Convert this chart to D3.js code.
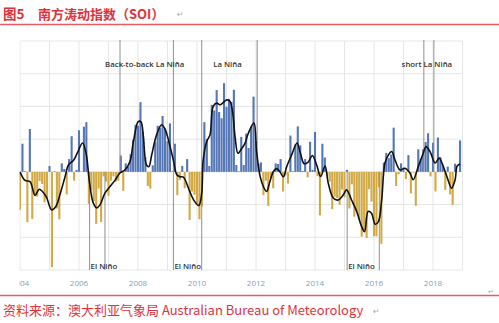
<!DOCTYPE html>
<html>
<head>
<meta charset="utf-8">
<script src="https://cdn.jsdelivr.net/npm/d3@7"></script>
<style>
  html, body { margin: 0; padding: 0; background: #fff; }
  svg { display: block; }
</style>
</head>
<body>
<svg id="chart" width="499" height="323"></svg>
<script>
// Monthly Southern Oscillation Index, January to December of each year
const soi2004 = [-11.6, 8.6, 0.2, -15.4, 13.1, -14.4, -6.9, -7.6, -2.8, -3.7, -9.3, -8.0];
const soi2005 = [1.8, -29.1, 0.2, -11.2, -14.5, 2.6, 0.9, -6.9, 3.9, 10.9, -2.7, 0.6];
const soi2006 = [12.7, 0.1, 13.8, 15.2, -9.8, -5.5, -8.9, -15.9, -5.1, -15.3, -1.4, -3.0];
const soi2007 = [-7.3, -2.7, -1.4, -3.0, -2.7, 5.0, -5.8, 2.6, 1.5, 5.4, 9.8, 14.4];
const soi2008 = [14.1, 21.3, 12.2, 4.5, -4.3, -5.1, 2.0, 9.1, 14.1, 13.5, 17.1, 13.3];
const soi2009 = [9.4, 14.8, 0.2, 8.6, -7.1, -2.5, 1.8, -5.0, 3.9, -14.7, -6.0, -7.0];
const soi2010 = [-10.1, -14.5, -10.6, 15.2, 10.0, 1.8, 20.5, 18.8, 25.0, 18.3, 16.4, 27.1];
const soi2011 = [19.9, 22.3, 21.4, 25.1, 2.1, 0.2, 10.7, 2.1, 11.7, 7.3, 13.8, 23.0];
const soi2012 = [9.4, 2.5, 2.9, -7.1, -2.7, -10.4, -1.8, -5.0, 2.6, 2.4, 3.9, -6.0];
const soi2013 = [-1.1, -3.6, 11.1, 0.2, 8.4, 13.9, 8.1, 0.3, 3.9, -1.7, 9.2, 0.6];
const soi2014 = [12.2, -1.3, -13.3, 8.6, 4.4, -1.5, -3.0, -11.4, -7.6, -8.0, -10.0, -5.4];
const soi2015 = [-7.8, 0.6, -11.2, -3.8, -13.7, -12.0, -14.7, -19.8, -17.8, -20.2, -5.3, -9.1];
const soi2016 = [-19.7, -19.7, -4.7, -22.0, 2.8, 5.8, 4.2, 5.3, 13.5, -4.3, -0.7, 2.6];
const soi2017 = [1.3, -2.2, 5.1, -6.6, -0.2, -10.4, 6.9, 4.0, 6.9, 9.1, 11.8, -1.4];
const soi2018 = [8.9, -6.0, 10.5, 4.5, 2.1, -5.5, 1.6, -6.9, -10.1, 2.5, -0.1, 9.6];

const years = [2004, 2005, 2006, 2007, 2008, 2009, 2010, 2011, 2012, 2013, 2014, 2015, 2016, 2017, 2018];
const soiByYear = [soi2004, soi2005, soi2006, soi2007, soi2008, soi2009, soi2010, soi2011,
                   soi2012, soi2013, soi2014, soi2015, soi2016, soi2017, soi2018];

// Smoothed SOI trace (decimal year, index value)
const trendTime = [2004.00, 2004.17, 2004.34, 2004.51, 2004.65, 2004.76, 2004.90, 2005.07, 2005.22, 2005.36,
  2005.53, 2005.64, 2005.81, 2005.94, 2006.12, 2006.24, 2006.35, 2006.48, 2006.60, 2006.71,
  2006.88, 2007.05, 2007.22, 2007.39, 2007.56, 2007.73, 2007.84, 2008.01, 2008.10, 2008.18,
  2008.29, 2008.37, 2008.46, 2008.63, 2008.80, 2008.92, 2009.08, 2009.20, 2009.31, 2009.42,
  2009.54, 2009.71, 2009.88, 2010.06, 2010.16, 2010.21, 2010.33, 2010.44, 2010.55, 2010.67,
  2010.78, 2011.01, 2011.12, 2011.21, 2011.29, 2011.39, 2011.52, 2011.63, 2011.74, 2011.93,
  2012.02, 2012.14, 2012.25, 2012.36, 2012.47, 2012.59, 2012.70, 2012.81, 2012.93, 2013.04,
  2013.21, 2013.39, 2013.51, 2013.63, 2013.77, 2013.91, 2014.06, 2014.19, 2014.34, 2014.45,
  2014.62, 2014.79, 2014.96, 2015.07, 2015.24, 2015.41, 2015.58, 2015.68, 2015.80, 2015.91,
  2016.04, 2016.15, 2016.26, 2016.37, 2016.49, 2016.60, 2016.71, 2016.88, 2017.05, 2017.22,
  2017.33, 2017.50, 2017.67, 2017.76, 2017.90, 2018.07, 2018.21, 2018.33, 2018.47, 2018.63,
  2018.75, 2018.82, 2018.92];
const trendValue = [0.0, -2.6, -3.0, -7.2, -5.3, -6.0, -7.8, -11.6, -10.5, -6.8,
  -1.4, 2.1, 3.5, 5.7, 8.8, 5.7, -2.8, -9.4, -11.0, -10.1,
  -6.5, -4.5, -2.6, -0.3, 0.6, 3.2, 9.0, 15.4, 15.3, 11.0,
  2.0, 1.6, 5.0, 11.3, 14.4, 13.0, 8.0, 3.5, -0.8, -1.5,
  -1.6, -5.0, -8.5, -10.3, -6.5, 3.7, 9.3, 11.3, 20.0, 21.0,
  20.5, 22.0, 21.5, 18.0, 10.8, 5.7, 7.2, 8.8, 11.8, 14.9,
  6.2, -1.4, -4.5, -6.0, -3.0, 0.1, 1.0, 0.0, -1.5, 1.6,
  5.2, 8.8, 5.5, 2.5, 3.0, 5.0, 2.0, -1.4, 1.8, -3.5,
  -8.0, -8.6, -7.0, -5.5, -8.6, -12.0, -16.7, -18.3, -12.1, -12.6,
  -16.0, -15.2, -8.6, 2.7, 5.2, 6.2, 3.7, 0.6, 1.1, -0.4,
  -2.4, 1.6, 5.7, 7.7, 6.2, 2.7, 4.2, 2.1, -1.4, -5.0,
  -2.4, 1.8, 2.4];

// ENSO episodes: phase, start, end (decimal years) and caption
const episodePhase = ["El Niño", "La Niña", "El Niño", "La Niña", "El Niño", "La Niña"];
const episodeStart = [2006.36, 2007.39, 2009.20, 2010.16, 2015.09, 2017.69];
const episodeEnd   = [2006.88, 2009.20, 2010.16, 2012.04, 2016.18, 2018.03];
const episodeLabel = ["El Niño", "Back-to-back La Niña", "El Niño", "La Niña", "El Niño", "short La Niña"];

const tickYears = [2004, 2006, 2008, 2010, 2012, 2014, 2016, 2018];
const gridValues = [-30, -20, -10, 0, 10, 20, 30, 40];

const titleNumber = "图5";
const titleText = "南方涛动指数（SOI）";
const sourceText = "资料来源：澳大利亚气象局 Australian Bureau of Meteorology";

// ---------------------------------------------------------------
const svg = d3.select("#chart");
const W = 499, H = 323;
const plot = { left: 20, right: 462.5, top: 41, bottom: 270 };

const x = d3.scaleLinear().domain([2004, 2019]).range([plot.left, plot.right]);
const y = d3.scaleLinear().domain([-30, 40]).range([plot.bottom, plot.top]);

const red = "#e0323c";
const lineRed = "#e65a62";

// heading and footer
svg.append("text").attr("x", 3).attr("y", 19)
  .attr("font-family", "'Noto Sans CJK SC', sans-serif").attr("font-weight", 700)
  .attr("font-size", 13.5).attr("fill", red).text(titleNumber);
svg.append("text").attr("x", 38).attr("y", 19)
  .attr("font-family", "'Noto Sans CJK SC', sans-serif").attr("font-weight", 700)
  .attr("font-size", 13).attr("fill", red).text(titleText);
svg.append("text").attr("x", 177).attr("y", 17)
  .attr("font-family", "'DejaVu Sans', sans-serif").attr("font-size", 8)
  .attr("fill", "#aaa").text("↵");

svg.append("line").attr("x1", 0).attr("x2", W).attr("y1", 24.5).attr("y2", 24.5)
  .attr("stroke", lineRed).attr("stroke-width", 1.5);
svg.append("line").attr("x1", 0).attr("x2", W).attr("y1", 295.5).attr("y2", 295.5)
  .attr("stroke", lineRed).attr("stroke-width", 1.5);

svg.append("text").attr("x", 3).attr("y", 315)
  .attr("font-family", "'Noto Sans CJK SC', sans-serif")
  .attr("font-size", 13).attr("fill", red).text(sourceText);
svg.append("text").attr("x", 373).attr("y", 314)
  .attr("font-family", "'DejaVu Sans', sans-serif").attr("font-size", 8)
  .attr("fill", "#aaa").text("↵");
svg.append("text").attr("x", 488).attr("y", 294)
  .attr("font-family", "'DejaVu Sans', sans-serif").attr("font-size", 7)
  .attr("fill", "#aaa").text("↵");

// chart body, cut at its left edge
svg.append("clipPath").attr("id", "cut")
  .append("rect").attr("x", 19.5).attr("y", 30).attr("width", 470).attr("height", 262);
const g = svg.append("g").attr("clip-path", "url(#cut)");

// grid
g.append("g").selectAll("line").data(gridValues).join("line")
  .attr("x1", plot.left).attr("x2", plot.right)
  .attr("y1", d => y(d)).attr("y2", d => y(d))
  .attr("stroke", "#e6e6e6").attr("stroke-width", 1);
g.append("g").selectAll("line").data(d3.range(2004, 2020)).join("line")
  .attr("x1", d => x(d)).attr("x2", d => x(d))
  .attr("y1", plot.top).attr("y2", plot.bottom)
  .attr("stroke", "#e6e6e6").attr("stroke-width", 1);

// monthly bars
const months = years.flatMap((yr, i) => soiByYear[i].map((v, m) => ({ t: yr + m / 12, v })));
const bw = 2.1;
g.append("g").selectAll("rect").data(months).join("rect")
  .attr("x", d => x(d.t) - bw / 2)
  .attr("width", bw)
  .attr("y", d => y(Math.max(0, d.v)))
  .attr("height", d => Math.abs(y(d.v) - y(0)))
  .attr("fill", d => d.v >= 0 ? "#5577b6" : "#d2aa45");

// episode markers
const episodes = episodePhase.map((p, i) => ({ p, s: episodeStart[i], e: episodeEnd[i], label: episodeLabel[i] }));
const markerLines = g.append("g");
episodes.forEach(ep => {
  const wet = ep.p === "La Niña";
  [ep.s, ep.e].forEach(t => {
    markerLines.append("line")
      .attr("x1", x(t)).attr("x2", x(t))
      .attr("y1", wet ? plot.top - 1 : y(0))
      .attr("y2", wet ? y(0) : plot.bottom)
      .attr("stroke", "#909090").attr("stroke-width", 1);
  });
});

// smoothed trace
const trend = d3.zip(trendTime, trendValue);
g.append("path")
  .datum(trend)
  .attr("fill", "none").attr("stroke", "#111").attr("stroke-width", 1.6)
  .attr("stroke-linejoin", "round")
  .attr("d", d3.line().x(d => x(d[0])).y(d => y(d[1])).curve(d3.curveCatmullRom.alpha(0.5)));

// episode captions
const cap = g.append("g")
  .attr("font-family", "'Open Sans', sans-serif").attr("font-weight", 600)
  .attr("font-size", 7.8).attr("fill", "#333");
episodes.forEach(ep => {
  if (ep.p === "La Niña") {
    cap.append("text").attr("x", (x(ep.s) + x(ep.e)) / 2 - 2).attr("y", 63.5)
      .attr("text-anchor", "middle").attr("dominant-baseline", "central").text(ep.label);
  } else {
    cap.append("text").attr("x", x(ep.s) + 1).attr("y", 266)
      .attr("dominant-baseline", "central").text(ep.label);
  }
});

// year labels
g.append("g").selectAll("text").data(tickYears).join("text")
  .attr("x", d => x(d)).attr("y", 282.5)
  .attr("text-anchor", "middle").attr("dominant-baseline", "central")
  .attr("font-family", "'Open Sans', sans-serif").attr("font-size", 8)
  .attr("fill", "#78a4c6").text(d => d);
</script>
</body>
</html>
